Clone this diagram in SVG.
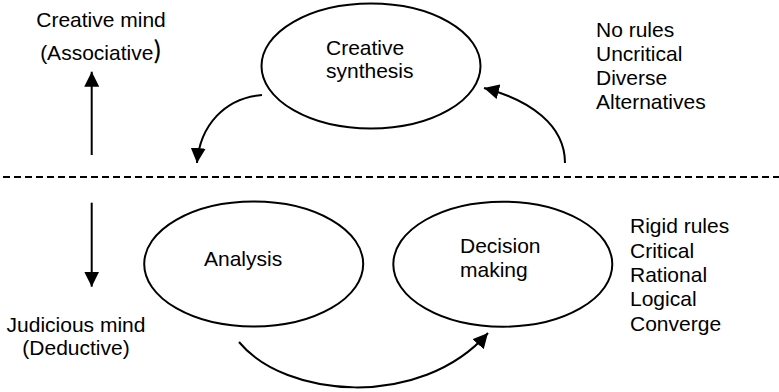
<svg xmlns="http://www.w3.org/2000/svg" width="779" height="392" viewBox="0 0 779 392">
  <style>
    text { font-family: "Liberation Sans", Arial, sans-serif; font-size: 21px; fill: #000; }
    .node { fill: #fff; stroke: #000; stroke-width: 2; }
    .conn { fill: none; stroke: #000; stroke-width: 2; }
    .divider { fill: none; stroke: #000; stroke-width: 2; stroke-dasharray: 7 4; }
    .mid { text-anchor: middle; }
    .tallparen { font-family: "Noto Sans CJK SC", "Liberation Sans", sans-serif; font-size: 24px; font-weight: 500; }
  </style>
  <defs>
    <marker id="arrowhead" viewBox="0 0 15 15" refX="15" refY="7.5" markerWidth="15" markerHeight="15" markerUnits="userSpaceOnUse" orient="auto">
      <path d="M0,0 L15,7.5 L0,15 z" fill="#000"/>
    </marker>
  </defs>

  <rect width="779" height="392" fill="#fff"/>

  <!-- boundary between the two modes of thinking -->
  <line class="divider" x1="3" y1="177" x2="779" y2="177"/>

  <!-- side labels -->
  <g id="creative-mind">
    <text class="mid" x="101" y="26.5">Creative mind</text>
    <text class="mid" x="101" y="60">(Associative<tspan class="tallparen" dy="-1">)</tspan></text>
  </g>
  <g id="judicious-mind">
    <text class="mid" x="76" y="332">Judicious mind</text>
    <text class="mid" x="76" y="355">(Deductive)</text>
  </g>

  <!-- nodes -->
  <g id="creative-synthesis">
    <ellipse class="node" cx="371" cy="66" rx="109.5" ry="62.5"/>
    <text x="326" y="55">Creative</text>
    <text x="326" y="78">synthesis</text>
  </g>
  <g id="analysis">
    <ellipse class="node" cx="253.7" cy="264" rx="109.5" ry="62.5"/>
    <text x="204" y="266">Analysis</text>
  </g>
  <g id="decision-making">
    <ellipse class="node" cx="502.8" cy="264.2" rx="109.5" ry="62.5"/>
    <text x="460" y="253">Decision</text>
    <text x="460" y="277">making</text>
  </g>

  <!-- attribute lists -->
  <g id="creative-traits">
    <text x="596" y="36.5">No rules</text>
    <text x="596" y="60.8">Uncritical</text>
    <text x="596" y="85.1">Diverse</text>
    <text x="596" y="109.4">Alternatives</text>
  </g>
  <g id="judicious-traits">
    <text x="630" y="233.3">Rigid rules</text>
    <text x="630" y="257.6">Critical</text>
    <text x="630" y="281.9">Rational</text>
    <text x="630" y="306.2">Logical</text>
    <text x="630" y="330.5">Converge</text>
  </g>

  <!-- connectors -->
  <g id="connectors">
    <line class="conn" x1="91.7" y1="155" x2="91.7" y2="71.7" marker-end="url(#arrowhead)"/>
    <line class="conn" x1="91.7" y1="202.7" x2="91.7" y2="286.7" marker-end="url(#arrowhead)"/>
    <path class="conn" d="M262,95 C225,98 200,125 197,163" marker-end="url(#arrowhead)"/>
    <path class="conn" d="M565,163 C565,125 530,100 484,88" marker-end="url(#arrowhead)"/>
    <path class="conn" d="M239,342 C285,398 420,410 488,333" marker-end="url(#arrowhead)"/>
  </g>
</svg>
